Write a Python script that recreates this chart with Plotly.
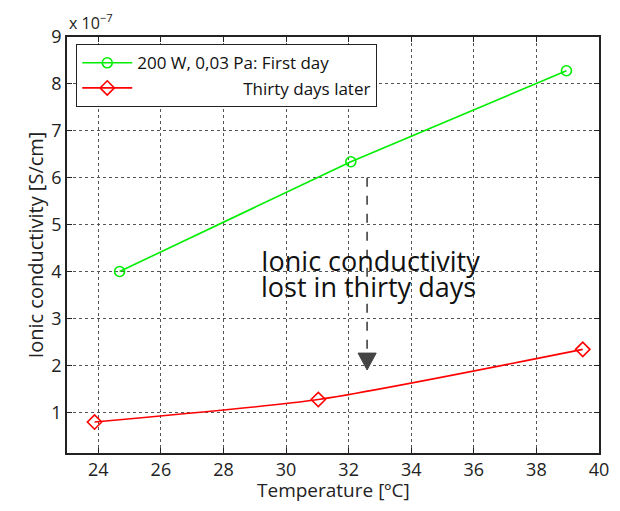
import plotly.graph_objects as go

temp_first = [24.68, 32.07, 38.96]
cond_first = [4.0, 6.34, 8.28]
temp_later = [23.88, 31.03, 39.48]
cond_later = [0.79, 1.27, 2.34]
x_ticks = [24, 26, 28, 30, 32, 34, 36, 38, 40]
y_ticks = [1, 2, 3, 4, 5, 6, 7, 8, 9]

FONT = "Open Sans"
fig = go.Figure()
fig.add_trace(go.Scatter(
    x=temp_first, y=cond_first, mode="lines+markers",
    name="200 W, 0,03 Pa: First day",
    line=dict(color="#00ee00", width=1.6),
    marker=dict(symbol="circle-open", size=10, color="#00ee00", line=dict(width=1.6)),
))
fig.add_trace(go.Scatter(
    x=temp_later, y=cond_later, mode="lines+markers",
    name="\u00a0" * 24 + "Thirty days later",
    line=dict(color="#ff0000", width=1.6, shape="spline", smoothing=0.6),
    marker=dict(symbol="diamond-open", size=11, color="#ff0000", line=dict(width=1.6)),
))

# dashed arrow
fig.add_shape(type="line", x0=32.59, x1=32.59, y0=6.0, y1=2.3, xref="x", yref="y",
              line=dict(color="#555555", width=1.8, dash="dash"))
fig.add_shape(type="path", xref="x", yref="y",
              path="M 32.30 2.26 L 32.88 2.26 L 32.59 1.9 Z",
              fillcolor="#444444", line=dict(color="#444444", width=1))
fig.add_annotation(x=29.13, y=4.23, xref="x", yref="y", xanchor="left",
                   text="Ionic conductivity", showarrow=False,
                   font=dict(family=FONT, size=27, color="#111111"))
fig.add_annotation(x=29.13, y=3.68, xref="x", yref="y", xanchor="left",
                   text="lost in thirty days", showarrow=False,
                   font=dict(family=FONT, size=27, color="#111111"))
fig.add_annotation(x=0, y=1, xref="paper", yref="paper", xanchor="left", yanchor="bottom",
                   text="x 10<sup>\u22127</sup>", showarrow=False,
                   font=dict(family=FONT, size=16, color="#222222"), yshift=1)
# x-axis title
fig.add_annotation(x=0.5, y=0, xref="paper", yref="paper", xanchor="center", yanchor="middle",
                   text="Temperature [ºC]", showarrow=False, yshift=-37,
                   font=dict(family=FONT, size=19, color="#222222"))

fig.update_xaxes(range=[23, 40], tickvals=x_ticks, showgrid=True, gridcolor="#555555",
                 griddash="dot", gridwidth=1, showline=True, linecolor="#222222", linewidth=1.5,
                 mirror="ticks", ticks="inside", ticklen=5, tickcolor="#222222", zeroline=False,
                 automargin=False,
                 tickfont=dict(family=FONT, size=18, color="#222222"))
fig.update_yaxes(range=[0.13, 9], tickvals=y_ticks, showgrid=True, gridcolor="#555555",
                 griddash="dot", gridwidth=1, showline=True, linecolor="#222222", linewidth=1.5,
                 mirror="ticks", ticks="inside", ticklen=5, tickcolor="#222222", zeroline=False,
                 automargin=False,
                 tickfont=dict(family=FONT, size=18, color="#222222"),
                 title=dict(text="Ionic conductivity [S/cm]", font=dict(family=FONT, size=20, color="#222222"), standoff=2))

fig.update_layout(
    width=604, height=495,
    margin=dict(l=59, r=13, t=29, b=50),
    paper_bgcolor="white", plot_bgcolor="white",
    legend=dict(x=0.017, y=0.983, xanchor="left", yanchor="top", bgcolor="white",
                bordercolor="#222222", borderwidth=1.2, itemwidth=50,
                font=dict(family=FONT, size=17, color="#111111"), tracegroupgap=0),
)
fig.write_html("out.html")
